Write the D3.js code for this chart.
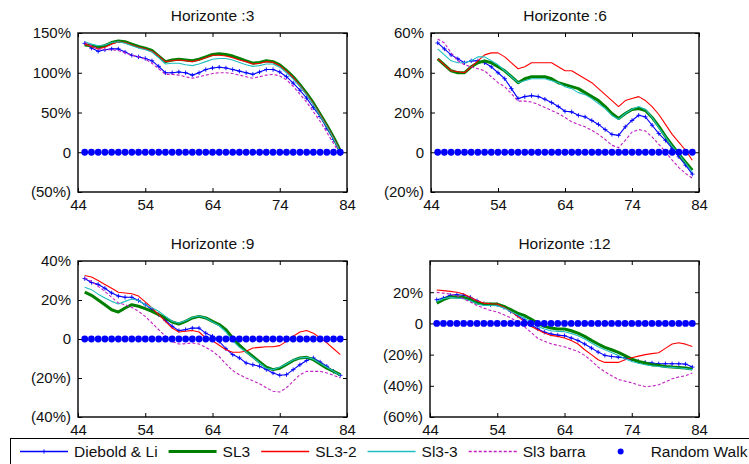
<!DOCTYPE html>
<html>
<head>
<meta charset="utf-8">
<script src="https://cdn.jsdelivr.net/npm/d3@7"></script>
<style>
  html, body { margin: 0; padding: 0; background: #fff; }
  svg { display: block; font-family: "Liberation Sans", Arial, sans-serif; }
</style>
</head>
<body>
<svg id="chart" width="749" height="464"></svg>
<script>
// ---------- DATA ----------
const years = [45,46,47,48,49,50,51,52,53,54,55,56,57,58,59,60,61,62,63,64,65,66,67,68,69,70,71,72,73,74,75,76,77,78,79,80,81,82,83];
const xTicks = [44, 54, 64, 74, 84];
const seriesNames = ["Diebold & Li", "SL3", "SL3-2", "Sl3-3", "Sl3 barra", "Random Walk"];
const panelTitles = ["Horizonte :3", "Horizonte :6", "Horizonte :9", "Horizonte :12"];

// Horizonte 3
const h3_DL    = [137,131,127,129,130,130,126,122,120,118,115,108,100,100,101,100,97,100,104,106,107,106,104,102,100,98,101,104,104,101,95,87,78,68,56,45,30,16,-2];
const h3_SL3   = [135,134,132,134,138,140,139,136,133,131,128,121,114,116,117,116,115,117,120,123,124,123,121,118,115,112,113,115,114,110,103,95,85,74,62,48,34,19,2];
const h3_SL32  = [136,133,130,132,136,139,138,135,132,130,127,121,114,115,116,115,114,116,119,122,122,121,119,116,114,111,112,114,113,109,102,94,84,73,61,47,33,18,1];
const h3_SL33  = [139,136,134,135,138,139,137,134,131,129,126,119,111,112,112,110,109,111,114,117,118,118,116,113,110,108,109,111,111,107,100,92,83,72,60,46,32,17,0];
const h3_barra = [138,134,130,129,129,128,125,122,120,117,112,105,98,98,97,95,93,95,97,99,100,100,99,97,95,93,95,97,98,96,91,83,73,63,51,39,25,11,-3];
const h3_RW    = [0,0,0,0,0,0,0,0,0,0,0,0,0,0,0,0,0,0,0,0,0,0,0,0,0,0,0,0,0,0,0,0,0,0,0,0,0,0,0];
const h3_yTicks = [-50, 0, 50, 100, 150];

// Horizonte 6
const h6_DL    = [55,52,49,47,45,46,46,45,43,40,37,32,27,28,28.5,28,26.7,25,23,20.6,20.3,18.6,17.8,16,14,11.4,9,8.5,12.8,16,18.6,17.8,13.6,9.4,6,2,-2.3,-6.5,-11];
const h6_SL3   = [47,44,41,40,40,43,45,46,45,43,41,38,35,37,38,38,38,37,35,34,33,32,30,28,26,23,19.5,17,19.5,21.5,22,21,17.5,13,8,3.5,-1,-5,-9];
const h6_SL32  = [47,44,41,40.5,40,43,46,49,50,50,48,45,42,43,45,45,45,45,43,41,41,39,37,35,32,29,26,23,26,27,28,26,23,19,14,9,5,1,-4];
const h6_SL33  = [52,49,46,45,45,46,48,48,46,44,41,38,35,36,37,37,37,36,35,33,32,30,29,27,24.5,22,18.5,16.5,19.5,21.6,23,21.5,17.5,12.4,7.7,3,-1,-5.4,-10];
const h6_barra = [57,55,50,46,44,43,42,41,38,35,33,29.5,25.7,25.7,25.3,24,22.5,21,19.5,17.5,15.3,14,12.8,11,9,6.4,3.5,2.3,6,10.2,11.4,10.7,7.7,4,0.2,-4,-7.7,-10.7,-13];
const h6_RW    = [0,0,0,0,0,0,0,0,0,0,0,0,0,0,0,0,0,0,0,0,0,0,0,0,0,0,0,0,0,0,0,0,0,0,0,0,0,0,0];
const h6_yTicks = [-20, 0, 20, 40, 60];

// Horizonte 9
const h9_DL    = [31,29,28,26,23.6,22,21.4,21.4,19.7,17.6,15,12.5,9.6,6.5,4.3,4.8,5.6,5.6,3,1.4,-1.2,-5,-8,-9.7,-12.3,-13.2,-14,-15.7,-17.4,-18.6,-18.3,-15.7,-13.2,-11,-9.7,-11.8,-14,-16.6,-18.6];
const h9_SL3   = [24,22.4,20,17.6,15,13.8,15.9,17.6,16.8,15.6,14.2,12.5,10.8,8.7,7.7,9,10.8,11.6,10.8,9,7.4,4.8,0.5,-3.2,-6.3,-9,-11.8,-14.5,-15.7,-15,-13,-11,-9.7,-9.4,-10.6,-12.8,-15,-16.6,-18.3];
const h9_SL32  = [32.6,31.8,30,28,26,24,23.6,23.2,22,19,16,12.5,9,5.6,3.6,4,4.4,3.6,0.5,-0.9,-3.2,-5.5,-6.8,-6.8,-6.3,-4.6,-4.3,-4,-4,-3.4,-1.2,1.4,3.6,4.4,3,0.5,-2,-5,-8];
const h9_SL33  = [26.5,25.3,23,21,19.3,18,19.3,20.5,19.7,17.6,16,14.2,11.6,9,8.2,9.4,11,11.8,10.8,8.7,6.8,3.6,-0.9,-4.3,-6.7,-9.4,-12.3,-15,-15.7,-14.5,-12.8,-10.8,-9.7,-9.4,-10.4,-12.5,-14.5,-16.6,-18.6];
const h9_barra = [31.3,29.6,27,24.4,21.4,18.5,17.6,16.2,14.2,11.6,8.2,4.8,1.4,-1.2,-2.6,-2.4,-2,-2.6,-4.3,-6.3,-9,-12.8,-16.2,-18.3,-20,-21.4,-23,-25,-26.8,-27.2,-25,-21.7,-18.3,-16.6,-16.6,-16.6,-17.4,-18.6,-20];
const h9_RW    = [0,0,0,0,0,0,0,0,0,0,0,0,0,0,0,0,0,0,0,0,0,0,0,0,0,0,0,0,0,0,0,0,0,0,0,0,0,0,0];
const h9_yTicks = [-40, -20, 0, 20, 40];

// Horizonte 12
const h12_DL    = [15.2,16.2,18,18.4,18,16.7,14.5,12.6,12,12,10.3,7.7,5.1,2.4,-0.9,-3.4,-5.6,-6.8,-7.5,-7.9,-9.4,-11,-13.2,-15.8,-18.4,-20.5,-21.2,-21.6,-22.2,-23.3,-24.4,-25,-25.4,-25.9,-25.9,-25.9,-25.9,-26.1,-28];
const h12_SL3   = [13,15.2,16.9,16.9,16.7,15.2,13,12.4,12.4,12.4,10.9,8.8,6.6,5.1,2.8,0.2,-1.9,-3,-3.6,-3.6,-4.7,-6.2,-8.3,-10.9,-13.2,-15.4,-16.9,-18.6,-20.7,-22.9,-24.4,-25.4,-26.5,-26.9,-27.6,-28,-28.2,-28.6,-29.3];
const h12_SL32  = [21.4,21,20.5,20,18.8,16.7,14.5,13,12.6,12.4,10.3,7.7,4.5,1.3,-1.9,-4,-6.2,-7.7,-8.3,-9.4,-11,-13.2,-16.9,-20,-23.3,-25,-25,-25,-23.3,-22,-21,-20,-19.4,-18.8,-16,-13.2,-12.4,-13.3,-14.8];
const h12_SL33  = [14,15.8,16.7,16.2,15.8,14.5,12.6,11.5,11.5,11.3,9.8,7.7,5.6,3.4,0.9,-1.9,-3.6,-4.7,-5.1,-5.3,-6.4,-7.9,-10,-12.6,-15,-16.9,-18.6,-20.5,-22.6,-24.4,-25.6,-26.5,-27.1,-27.6,-28,-28.2,-28.6,-29,-29.7];
const h12_barra = [19.9,19.4,18.8,17.7,15.8,13.7,11.5,9.8,8.3,7.3,5.5,3.5,1,-2,-5.6,-9.5,-11.5,-13,-14.1,-15,-16.5,-18,-20.5,-24,-28,-31,-33.5,-36,-37,-38,-39.5,-40.5,-40.3,-39.3,-37.5,-35.5,-34.3,-33.5,-31.8];
const h12_RW    = [0,0,0,0,0,0,0,0,0,0,0,0,0,0,0,0,0,0,0,0,0,0,0,0,0,0,0,0,0,0,0,0,0,0,0,0,0,0,0];
const h12_yTicks = [-60, -40, -20, 0, 20];

// ---------- STYLES / LAYOUT ----------
const styles = [
  { color: "#0000ff", width: 1.1, dash: null, marker: "plus" },
  { color: "#008000", width: 3,   dash: null },
  { color: "#ff0000", width: 1.1, dash: null },
  { color: "#1fbfbf", width: 1.1, dash: null },
  { color: "#c21fc2", width: 1.1, dash: "3,2" },
  { color: "#0000ff", dot: true }
];

const panels = [
  { title: panelTitles[0], data: [h3_DL, h3_SL3, h3_SL32, h3_SL33, h3_barra, h3_RW],   domain: [-50, 150], ticks: h3_yTicks,  box: { l: 78,  r: 347, t: 33,  b: 192 } },
  { title: panelTitles[1], data: [h6_DL, h6_SL3, h6_SL32, h6_SL33, h6_barra, h6_RW],   domain: [-20, 60],  ticks: h6_yTicks,  box: { l: 431, r: 699, t: 33,  b: 192 } },
  { title: panelTitles[2], data: [h9_DL, h9_SL3, h9_SL32, h9_SL33, h9_barra, h9_RW],   domain: [-40, 40],  ticks: h9_yTicks,  box: { l: 78,  r: 347, t: 261, b: 417 } },
  { title: panelTitles[3], data: [h12_DL, h12_SL3, h12_SL32, h12_SL33, h12_barra, h12_RW], domain: [-60, 40], ticks: h12_yTicks, box: { l: 430, r: 699, t: 261, b: 417 } }
];

const fmt = v => v === 0 ? "0" : (v < 0 ? "(" + (-v) + "%)" : v + "%");
const svg = d3.select("#chart");
svg.append("rect").attr("width", 749).attr("height", 464).attr("fill", "#fff");

const plusPath = (x, y, s) => `M${x - s},${y}H${x + s}M${x},${y - s}V${y + s}`;

panels.forEach((p, pi) => {
  const B = p.box;
  const x = d3.scaleLinear().domain([44, 84]).range([B.l, B.r]);
  const y = d3.scaleLinear().domain(p.domain).range([B.b, B.t]);
  const g = svg.append("g");

  const clipId = "clip" + pi;
  svg.append("clipPath").attr("id", clipId)
    .append("rect").attr("x", B.l).attr("y", B.t).attr("width", B.r - B.l).attr("height", B.b - B.t);

  // title
  g.append("text").attr("x", (B.l + B.r) / 2).attr("y", B.t - 12)
    .attr("text-anchor", "middle").attr("font-size", 15.5).attr("fill", "#111").text(p.title);

  // axes
  const axL = g.append("g").attr("transform", `translate(${B.l},0)`)
    .call(d3.axisLeft(y).tickValues(p.ticks).tickSize(-4).tickPadding(7).tickFormat(fmt));
  const axR = g.append("g").attr("transform", `translate(${B.r},0)`)
    .call(d3.axisRight(y).tickValues(p.ticks).tickSize(-4).tickFormat(""));
  const axB = g.append("g").attr("transform", `translate(0,${B.b})`)
    .call(d3.axisBottom(x).tickValues(xTicks).tickSize(-4).tickPadding(7).tickFormat(d3.format("d")));
  const axT = g.append("g").attr("transform", `translate(0,${B.t})`)
    .call(d3.axisTop(x).tickValues(xTicks).tickSize(-4).tickFormat(""));
  [axL, axR, axB, axT].forEach(a => {
    a.select(".domain").remove();
    a.selectAll("line").attr("stroke", "#000").attr("stroke-width", 1);
    a.selectAll("text").attr("font-size", 15).attr("fill", "#111")
      .attr("font-family", "'Liberation Sans', Arial, sans-serif");
  });

  // series
  const plot = g.append("g").attr("clip-path", `url(#${clipId})`);
  p.data.forEach((vals, si) => {
    const st = styles[si];
    const pts = years.map((yr, i) => [yr, vals[i]]);
    if (st.dot) {
      g.append("g").selectAll("circle").data(pts).join("circle")
        .attr("cx", d => x(d[0])).attr("cy", d => y(d[1])).attr("r", 3.4)
        .attr("fill", st.color);
      return;
    }
    const line = d3.line().x(d => x(d[0])).y(d => y(d[1]));
    plot.append("path").attr("d", line(pts)).attr("fill", "none")
      .attr("stroke", st.color).attr("stroke-width", st.width)
      .attr("stroke-dasharray", st.dash).attr("stroke-linejoin", "round");
    if (st.marker === "plus") {
      plot.append("path").attr("d", pts.map(d => plusPath(x(d[0]), y(d[1]), 2.2)).join(""))
        .attr("stroke", st.color).attr("stroke-width", 0.9).attr("fill", "none");
    }
  });

  // frame
  g.append("rect").attr("x", B.l).attr("y", B.t).attr("width", B.r - B.l).attr("height", B.b - B.t)
    .attr("fill", "none").attr("stroke", "#000").attr("stroke-width", 1.4);
});

// ---------- LEGEND ----------
const leg = svg.append("g");
leg.append("rect").attr("x", 10.5).attr("y", 438.5).attr("width", 800).attr("height", 40)
  .attr("fill", "#fff").attr("stroke", "#000").attr("stroke-width", 1);
let cx = 20;
const ly = 451.5;
seriesNames.forEach((name, i) => {
  const st = styles[i];
  if (st.dot) {
    leg.append("circle").attr("cx", cx + 24).attr("cy", ly).attr("r", 3).attr("fill", st.color);
  } else {
    leg.append("path").attr("d", `M${cx},${ly}H${cx + 48}`).attr("fill", "none")
      .attr("stroke", st.color).attr("stroke-width", Math.max(st.width, 1.4))
      .attr("stroke-dasharray", st.dash);
    if (st.marker === "plus") {
      leg.append("path").attr("d", plusPath(cx + 24, ly, 2.2)).attr("fill", "none")
        .attr("stroke", st.color).attr("stroke-width", 0.9);
    }
  }
  cx += 54;
  const t = leg.append("text").attr("x", cx).attr("y", ly + 5.5).attr("font-size", 15.5)
    .attr("fill", "#111").text(name);
  cx += t.node().getComputedTextLength() + 11;
});
</script>
</body>
</html>
